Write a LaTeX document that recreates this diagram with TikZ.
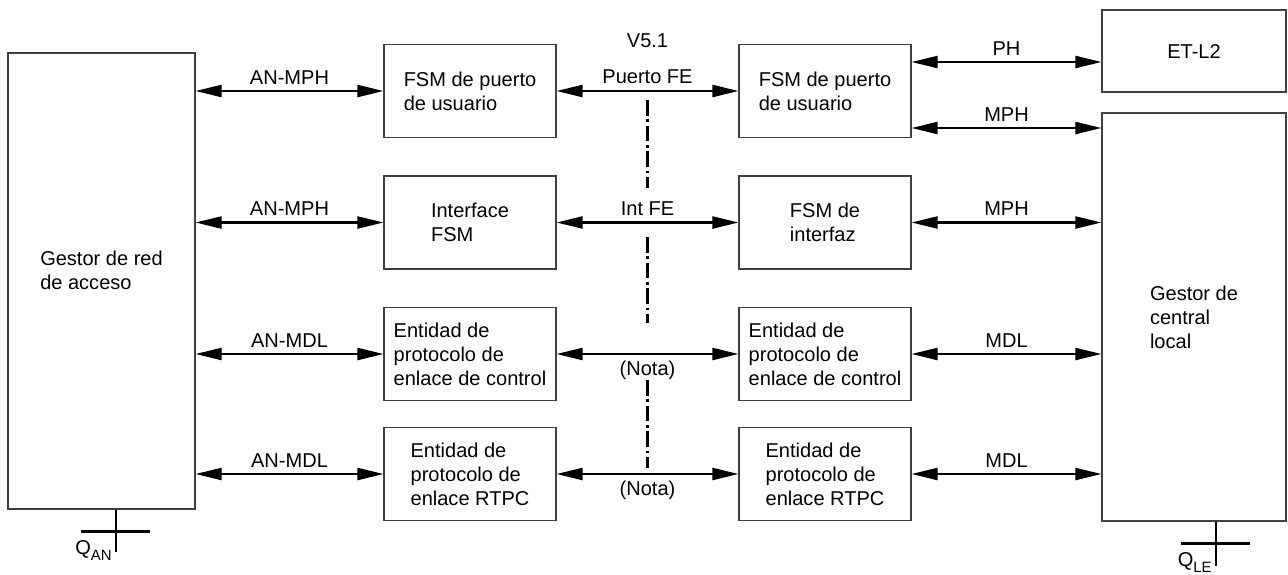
\documentclass[tikz,border=0pt]{standalone}
\usepackage{fontspec}
\setmainfont{Liberation Sans}
\usetikzlibrary{positioning,arrows.meta}

\begin{document}
\begin{tikzpicture}[node distance=71mm, font=\fontsize{11.4}{13.6}\selectfont,
		>={Triangle[length=5.2mm,width=2.4mm]},
		block/.style = {draw=black!75, line width=0.6pt, minimum width=34.4mm, minimum height=18.6mm, align=left, inner sep=0pt},
		big/.style = {draw=black!75, line width=0.6pt, align=left, inner sep=0pt},
		link/.style = {<->, line width=1.2pt},
		cross/.style = {line width=1.2pt},
		border/.style = {line width=1.3pt, dash pattern=on 9pt off 2pt on 1.6pt off 2pt}]
		\useasboundingbox (0,0) rectangle (257.6mm,-114.8mm);
		
		%Create managers on both sides
		\node[big, minimum width=37.4mm, minimum height=91.2mm] (gra) at (20.3mm,-56.2mm) {};
		\node[align=left] (gratext) at ([yshift=2.2mm]gra.center) {Gestor de red\\de acceso};
		\node[big, minimum width=36.8mm, minimum height=16.4mm] (etl2) at (238.8mm,-10.2mm) {ET-L2};
		\node[big, minimum width=36.8mm, minimum height=81.6mm] (grc) at (238.8mm,-63.4mm) {Gestor de\\central\\local};
		%Left column of entities (AN)
		\node[block] (l1) at (94mm,-18.2mm) {FSM de puerto\\de usuario};
		\node[block] (l2) [node distance=26.3mm, below of=l1] {Interface\\FSM};
		\node[block] (l3) [node distance=26.3mm, below of=l2] {Entidad de\\protocolo de\\enlace de control};
		\node[block] (l4) [node distance=24mm, below of=l3] {Entidad de\\protocolo de\\enlace RTPC};
		%Right column of entities (LE)
		\node[block] (r1) [right of=l1] {FSM de puerto\\de usuario};
		\node[block] (r2) [right of=l2] {FSM de\\interfaz};
		\node[block] (r3) [right of=l3] {Entidad de\\protocolo de\\enlace de control};
		\node[block] (r4) [right of=l4] {Entidad de\\protocolo de\\enlace RTPC};
		
		%Edges to the AN manager
		\path [link] (gra.east |- l1) edge node[above] {AN-MPH} (l1); 	%Edge gra <-> l1
		\path [link] (gra.east |- l2) edge node[above] {AN-MPH} (l2); 	%Edge gra <-> l2
		\path [link] (gra.east |- l3) edge node[above] {AN-MDL} (l3); 	%Edge gra <-> l3
		\path [link] (gra.east |- l4) edge node[above] {AN-MDL} (l4); 	%Edge gra <-> l4
		
		%Edges across the V5.1 interface
		\path [link] (l1) edge node[above] (pfe) {Puerto FE} (r1); 	%Edge l1 <-> r1
		\path [link] (l2) edge node[above] {Int FE} (r2); 	%Edge l2 <-> r2
		\path [link] (l3) edge node[below] {(Nota)} (r3); 	%Edge l3 <-> r3
		\path [link] (l4) edge node[below] {(Nota)} (r4); 	%Edge l4 <-> r4
		\node (v51) [node distance=7.2mm, above of=pfe] {V5.1};
		
		%Edges to ET-L2 and the LE manager
		\coordinate (ph) at ([yshift=5.8mm]r1.east);
		\coordinate (mph) at ([yshift=-7.4mm]r1.east);
		\path [link] (ph) edge node[above] {PH} (ph -| etl2.west); 	%Edge r1 <-> etl2
		\path [link] (mph) edge node[above] {MPH} (mph -| grc.west); 	%Edge r1 <-> grc
		\path [link] (r2) edge node[above] {MPH} (r2 -| grc.west); 	%Edge r2 <-> grc
		\path [link] (r3) edge node[above] {MDL} (r3 -| grc.west); 	%Edge r3 <-> grc
		\path [link] (r4) edge node[above] {MDL} (r4 -| grc.west); 	%Edge r4 <-> grc
		
		%Interface boundary
		\draw[border] (129.5mm,-20mm) -- (129.5mm,-37.6mm);
		\draw[border] (129.5mm,-47.4mm) -- (129.5mm,-64.6mm);
		\draw[border] (129.5mm,-76mm) -- (129.5mm,-93.6mm);
		
		%Q reference points
		\coordinate (qan) at ([xshift=2.9mm]gra.south);
		\draw[cross] (qan) -- ++(0,-8.4mm);
		\draw[cross] ([xshift=-7mm,yshift=-4.4mm]qan) -- ++(13.8mm,0);
		\node[anchor=north east, inner sep=0pt] (qanl) at ([xshift=-0.8mm,yshift=-6.2mm]qan) {Q\raisebox{-0.3em}{\fontsize{8.5}{8.5}\selectfont AN}};
		\coordinate (qle) at ([xshift=4.4mm]grc.south);
		\draw[cross] (qle) -- ++(0,-8.8mm);
		\draw[cross] ([xshift=-7mm,yshift=-4.4mm]qle) -- ++(13.8mm,0);
		\node[anchor=north east, inner sep=0pt] (qlel) at ([xshift=-0.8mm,yshift=-6.2mm]qle) {Q\raisebox{-0.3em}{\fontsize{8.5}{8.5}\selectfont LE}};
	\end{tikzpicture}
\end{document}
